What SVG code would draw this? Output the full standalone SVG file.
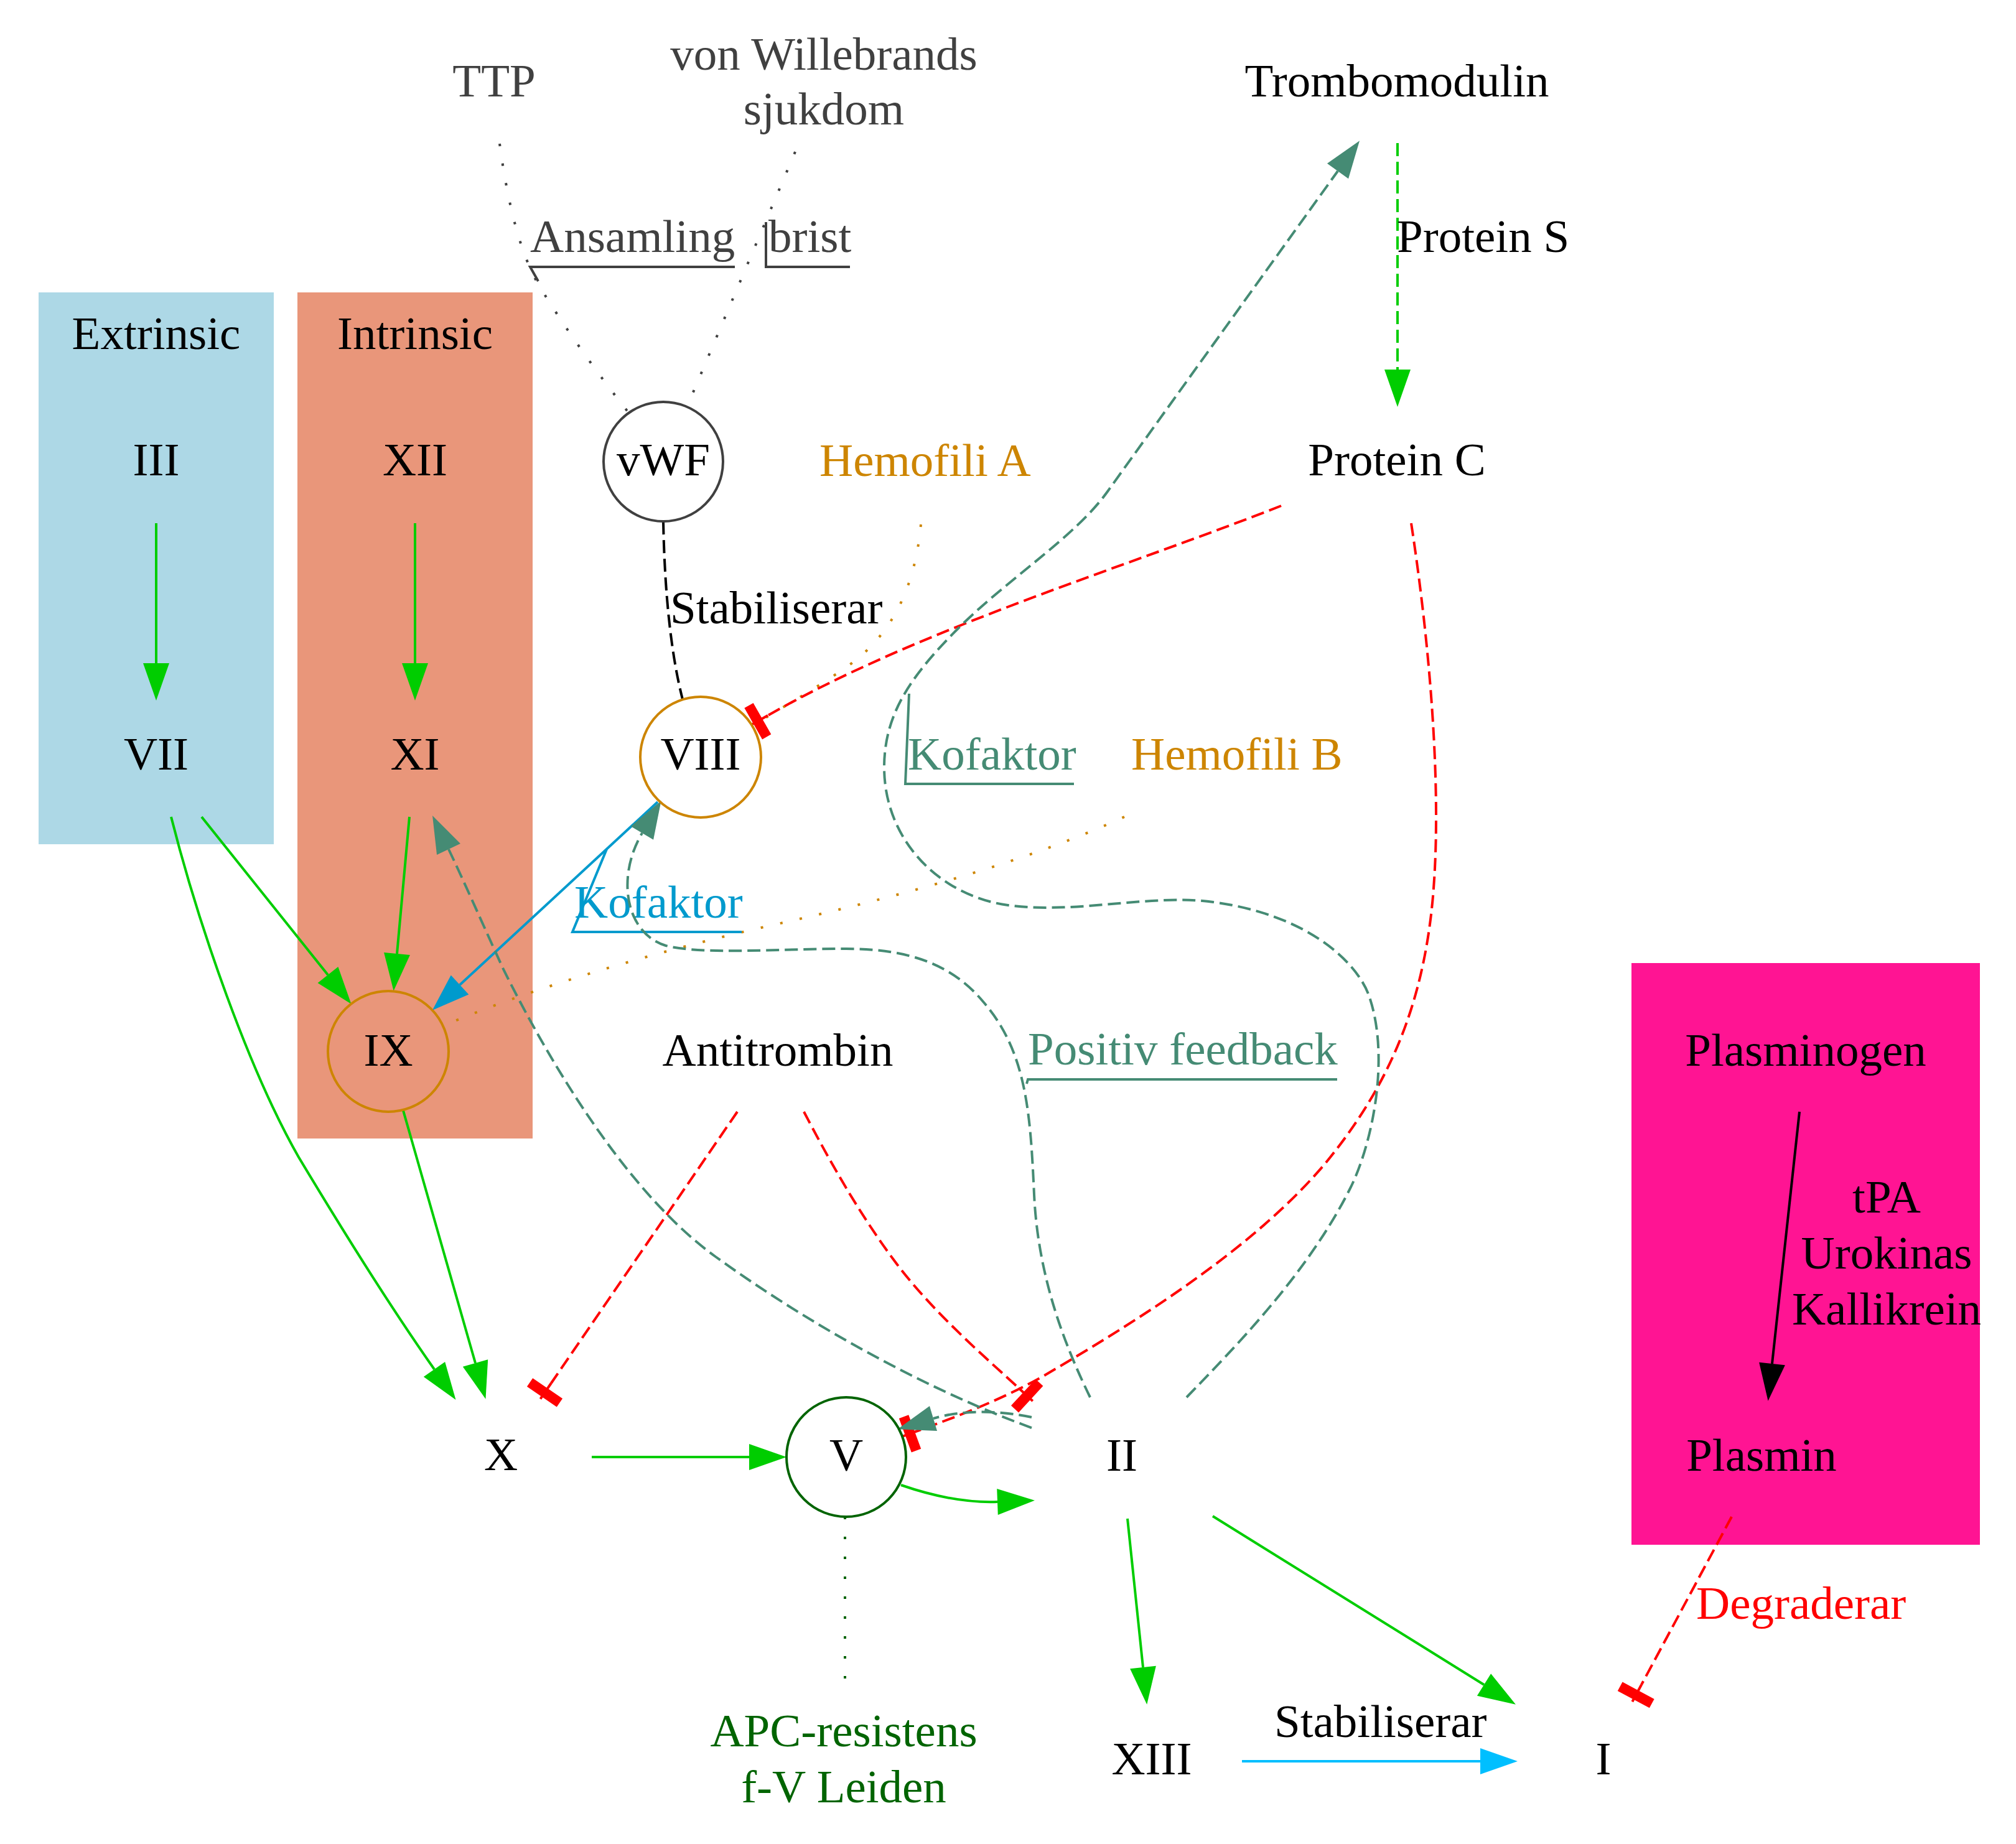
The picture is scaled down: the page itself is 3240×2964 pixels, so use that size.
<svg xmlns="http://www.w3.org/2000/svg" width="3240" height="2964" viewBox="0 0 3240 2964">
<style>
.t{font-family:"Liberation Serif","Times New Roman",serif;font-size:75px;fill:#000}
.m{text-anchor:middle}
.gray{fill:#404040}
.orange{fill:#cd8500}
.teal{fill:#458b74}
.blue{fill:#009acd}
.red{fill:#ff0000}
.dg{fill:#006400}
.e{fill:none;stroke-width:4}
.dash{stroke-dasharray:21,9}
.dot{stroke-dasharray:4,28}
.deco{fill:none;stroke-width:4}
</style>
<defs>
<marker id="aG" markerUnits="userSpaceOnUse" orient="auto" refX="0" refY="0" markerWidth="70" markerHeight="50" style="overflow:visible"><path d="M0,-21 L60,0 L0,21 z" fill="#00cd00"/></marker>
<marker id="aT" markerUnits="userSpaceOnUse" orient="auto" refX="0" refY="0" markerWidth="70" markerHeight="50" style="overflow:visible"><path d="M0,-21 L60,0 L0,21 z" fill="#458b74"/></marker>
<marker id="aB" markerUnits="userSpaceOnUse" orient="auto" refX="0" refY="0" markerWidth="70" markerHeight="50" style="overflow:visible"><path d="M0,-21 L60,0 L0,21 z" fill="#009acd"/></marker>
<marker id="aS" markerUnits="userSpaceOnUse" orient="auto" refX="0" refY="0" markerWidth="70" markerHeight="50" style="overflow:visible"><path d="M0,-21 L60,0 L0,21 z" fill="#00bfff"/></marker>
<marker id="aK" markerUnits="userSpaceOnUse" orient="auto" refX="0" refY="0" markerWidth="70" markerHeight="50" style="overflow:visible"><path d="M0,-21 L60,0 L0,21 z" fill="#000000"/></marker>
<marker id="tR" markerUnits="userSpaceOnUse" orient="auto" refX="0" refY="0" markerWidth="40" markerHeight="70" style="overflow:visible"><path d="M0,0 L31,0" stroke="#ff0000" stroke-width="4" fill="none"/><rect x="12.4" y="-27" width="12.4" height="54" fill="#ff0000" stroke="#ff0000" stroke-width="4"/></marker>
</defs>
<rect x="0" y="0" width="3240" height="2964" fill="#ffffff"/>

<g id="cluster_extrinsic">
<rect x="62" y="470" width="378" height="887" fill="#add8e6"/>
<text class="t m" x="251" y="561">Extrinsic</text>
</g>
<g id="cluster_intrinsic">
<rect x="478" y="470" width="378" height="1360" fill="#e9967a"/>
<text class="t m" x="667" y="561">Intrinsic</text>
</g>
<g id="cluster_fibrinolys">
<rect x="2622" y="1548" width="560" height="935" fill="#ff1493"/>
</g>

<g id="edges">
<!-- TTP - vWF -->
<path class="e dot" stroke="#404040" d="M803,231 C815,320 835,410 870,465 C910,530 960,600 1010,663"/>
<polyline class="deco" stroke="#404040" points="865,452 852,429 1181,429"/>
<text class="t gray" x="852" y="405">Ansamling</text>
<!-- vWD - vWF -->
<path class="e dot" stroke="#404040" d="M1278,244 L1104,654"/>
<polyline class="deco" stroke="#404040" points="1231,357 1231,429 1366,429"/>
<text class="t gray" x="1235" y="405">brist</text>
<!-- vWF - VIII -->
<path class="e dash" stroke="#000000" d="M1066,838 C1068,950 1078,1050 1097,1124"/>
<text class="t" x="1077" y="1002">Stabiliserar</text>
<!-- Hemofili A - VIII -->
<path class="e dot" stroke="#cd8500" d="M1480,843 C1470,950 1430,1020 1369,1066 C1300,1115 1250,1140 1208,1168"/>
<!-- Hemofili B - IX -->
<path class="e dot" stroke="#cd8500" d="M1807,1313 C1650,1385 1450,1440 1250,1485 C1050,1530 850,1590 712,1649"/>
<!-- Trombomodulin -> Protein C -->
<path class="e dash" stroke="#00cd00" d="M2246,230 L2246,594" marker-end="url(#aG)"/>
<text class="t" x="2245" y="405">Protein S</text>
<!-- Protein C -| VIII -->
<path class="e dash" stroke="#ff0000" d="M2059,813 C1800,915 1480,1010 1234,1150" marker-end="url(#tR)"/>
<!-- Protein C -| V -->
<path class="e dash" stroke="#ff0000" d="M2268,841 C2300,1050 2320,1300 2300,1470 C2280,1640 2220,1760 2130,1870 C2020,2000 1850,2110 1680,2210 C1610,2250 1540,2276 1480,2298" marker-end="url(#tR)"/>
<!-- III -> VII -->
<path class="e" stroke="#00cd00" d="M251,841 L251,1066" marker-end="url(#aG)"/>
<!-- XII -> XI -->
<path class="e" stroke="#00cd00" d="M667,841 L667,1066" marker-end="url(#aG)"/>
<!-- VII -> IX -->
<path class="e" stroke="#00cd00" d="M324,1313 L527,1567" marker-end="url(#aG)"/>
<!-- VII -> X -->
<path class="e" stroke="#00cd00" d="M275,1313 C320,1490 400,1720 480,1860 C540,1960 620,2090 698,2201" marker-end="url(#aG)"/>
<!-- XI -> IX -->
<path class="e" stroke="#00cd00" d="M658,1313 L638,1533" marker-end="url(#aG)"/>
<!-- IX -> X -->
<path class="e" stroke="#00cd00" d="M648,1785 L764,2191" marker-end="url(#aG)"/>
<!-- VIII -> IX Kofaktor -->
<path class="e" stroke="#009acd" d="M1057,1289 L739,1583" marker-end="url(#aB)"/>
<polyline class="deco" stroke="#009acd" points="975,1365 920,1498 1192,1498"/>
<text class="t blue" x="923" y="1475">Kofaktor</text>
<!-- II -> VIII Positiv feedback -->
<path class="e dash" stroke="#458b74" d="M1752,2246 C1710,2160 1668,2050 1662,1920 C1656,1790 1650,1690 1580,1610 C1530,1550 1460,1525 1360,1525 C1250,1525 1130,1535 1070,1520 C1005,1500 990,1410 1032,1339" marker-end="url(#aT)"/>
<polyline class="deco" stroke="#458b74" points="1650,1742 1652,1735 2149,1735"/>
<text class="t teal" x="1652" y="1711">Positiv feedback</text>
<!-- II -> Trombomodulin Kofaktor -->
<path class="e dash" stroke="#458b74" d="M1907,2246 C1980,2170 2100,2050 2170,1910 C2205,1840 2235,1700 2200,1600 C2180,1545 2100,1470 1950,1450 C1850,1436 1730,1470 1620,1455 C1510,1440 1420,1350 1421,1231 C1422,1150 1460,1090 1540,1010 C1620,930 1727,864 1780,790 L2150,275" marker-end="url(#aT)"/>
<polyline class="deco" stroke="#458b74" points="1461,1115 1455,1260 1726,1260"/>
<text class="t teal" x="1459" y="1237">Kofaktor</text>
<!-- II -> XI -->
<path class="e dash" stroke="#458b74" d="M1658,2295 C1520,2245 1330,2150 1150,2020 C1020,1926 900,1740 810,1560 C780,1495 745,1415 721,1365" marker-end="url(#aT)"/>
<!-- II -> V -->
<path class="e dash" stroke="#458b74" d="M1658,2278 C1610,2268 1550,2265 1500,2280" marker-end="url(#aT)"/>
<!-- Antitrombin -| X -->
<path class="e dash" stroke="#ff0000" d="M1185,1787 L886,2223" marker-end="url(#tR)"/>
<!-- Antitrombin -| II -->
<path class="e dash" stroke="#ff0000" d="M1292,1787 C1330,1860 1380,1950 1440,2030 C1500,2110 1585,2183 1637,2231" marker-end="url(#tR)"/>
<!-- X -> V -->
<path class="e" stroke="#00cd00" d="M951,2342 L1204,2342" marker-end="url(#aG)"/>
<!-- V -> II -->
<path class="e" stroke="#00cd00" d="M1448,2387 C1500,2405 1550,2416 1603,2414" marker-end="url(#aG)"/>
<!-- V - APC -->
<path class="e dot" stroke="#006400" d="M1358,2438 L1358,2720"/>
<!-- II -> XIII -->
<path class="e" stroke="#00cd00" d="M1812,2441 L1837,2680" marker-end="url(#aG)"/>
<!-- II -> I -->
<path class="e" stroke="#00cd00" d="M1949,2437 L2385,2708" marker-end="url(#aG)"/>
<!-- XIII -> I -->
<path class="e" stroke="#00bfff" d="M1996,2831 L2379,2831" marker-end="url(#aS)"/>
<text class="t" x="2048" y="2792">Stabiliserar</text>
<!-- Plasminogen -> Plasmin -->
<path class="e" stroke="#000000" d="M2892,1787 L2848,2192" marker-end="url(#aK)"/>
<text class="t m" x="3032" y="1949">tPA</text>
<text class="t m" x="3032" y="2039">Urokinas</text>
<text class="t m" x="3032" y="2129">Kallikrein</text>
<!-- Plasmin -| I -->
<path class="e dash" stroke="#ff0000" d="M2783,2438 L2638,2708" marker-end="url(#tR)"/>
<text class="t red" x="2726" y="2602">Degraderar</text>
</g>

<g id="TTP"><text class="t m gray" x="794" y="155">TTP</text></g>
<g id="vWD"><text class="t m gray" x="1324" y="112">von Willebrands</text><text class="t m gray" x="1324" y="200">sjukdom</text></g>
<g id="Trombomodulin"><text class="t m" x="2245" y="155">Trombomodulin</text></g>
<g id="III"><text class="t m" x="251" y="764">III</text></g>
<g id="XII"><text class="t m" x="667" y="764">XII</text></g>
<g id="vWF"><circle cx="1066" cy="742" r="96" fill="none" stroke="#404040" stroke-width="4"/><text class="t m" x="1066" y="764">vWF</text></g>
<g id="HemofiliA"><text class="t orange" x="1317" y="765">Hemofili A</text></g>
<g id="ProteinC"><text class="t m" x="2245" y="764">Protein C</text></g>
<g id="VII"><text class="t m" x="251" y="1237">VII</text></g>
<g id="XI"><text class="t m" x="667" y="1237">XI</text></g>
<g id="VIII"><circle cx="1126" cy="1217" r="97" fill="none" stroke="#cd8500" stroke-width="4"/><text class="t m" x="1126" y="1237">VIII</text></g>
<g id="HemofiliB"><text class="t orange" x="1818" y="1237">Hemofili B</text></g>
<g id="IX"><circle cx="624" cy="1690" r="97" fill="none" stroke="#cd8500" stroke-width="4"/><text class="t m" x="624" y="1713">IX</text></g>
<g id="Antitrombin"><text class="t m" x="1250" y="1713">Antitrombin</text></g>
<g id="Plasminogen"><text class="t m" x="2902" y="1713">Plasminogen</text></g>
<g id="X"><text class="t m" x="805" y="2363">X</text></g>
<g id="V"><circle cx="1360" cy="2342" r="96" fill="none" stroke="#006400" stroke-width="4"/><text class="t m" x="1360" y="2364">V</text></g>
<g id="II"><text class="t m" x="1803" y="2364">II</text></g>
<g id="Plasmin"><text class="t m" x="2831" y="2364">Plasmin</text></g>
<g id="APC"><text class="t m dg" x="1356" y="2807">APC-resistens</text><text class="t m dg" x="1356" y="2897">f-V Leiden</text></g>
<g id="XIII"><text class="t m" x="1851" y="2852">XIII</text></g>
<g id="I"><text class="t m" x="2577" y="2852">I</text></g>
</svg>
